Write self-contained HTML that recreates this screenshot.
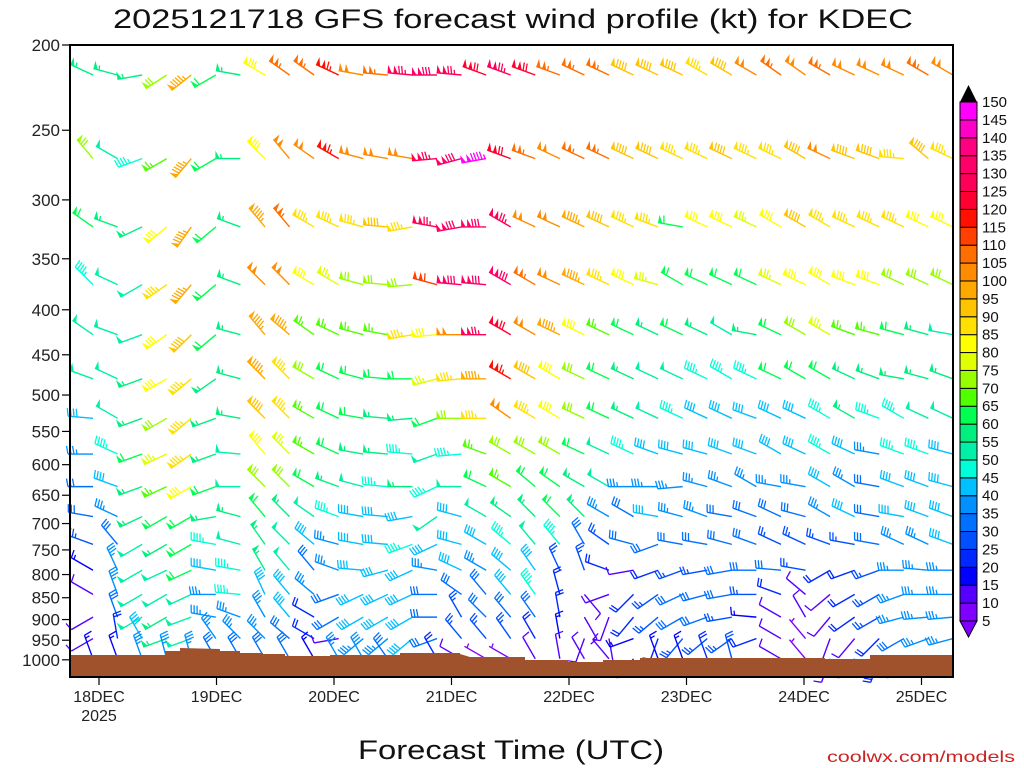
<!DOCTYPE html>
<html><head><meta charset="utf-8"><style>
html,body{margin:0;padding:0;background:#fff;}
svg{display:block;font-family:"Liberation Sans",sans-serif;}
</style></head><body>
<svg id="chart" width="1024" height="768" viewBox="0 0 1024 768" xmlns="http://www.w3.org/2000/svg">
<text x="113" y="28" font-size="27" textLength="800" lengthAdjust="spacingAndGlyphs" fill="#111">2025121718 GFS forecast wind profile (kt) for KDEC</text>
<g id="barbs"></g>
<g id="terrain"></g>
<g id="axes"></g>
<g id="cbar"></g>
<text x="358" y="759" font-size="27" textLength="306" lengthAdjust="spacingAndGlyphs" fill="#111">Forecast Time (UTC)</text>
<text x="827" y="762" font-size="16" textLength="188" lengthAdjust="spacingAndGlyphs" fill="#cc2222">coolwx.com/models</text>
</svg>
<script>
const levels=[200,250,300,350,400,450,500,550,600,650,700,750,800,850,900,950];
const tickLevels=[200,250,300,350,400,450,500,550,600,650,700,750,800,850,900,950,1000];
const dayLabels=["18DEC","19DEC","20DEC","21DEC","22DEC","23DEC","24DEC","25DEC"];
const colorLevels=[5,10,15,20,25,30,35,40,45,50,55,60,65,70,75,80,85,90,95,100,105,110,115,120,125,130,135,140,145,150];
const speeds=[
[55,55,55,70,95,60,55,80,105,105,115,100,105,125,130,125,120,125,120,105,105,105,90,90,90,85,90,100,105,100,105,100,100,100,105,100],
[70,50,45,65,95,60,55,80,100,100,115,100,100,100,125,130,145,120,105,100,105,105,90,90,85,85,90,85,85,90,100,90,90,85,90,85],
[60,55,55,80,95,60,55,95,105,85,85,85,90,85,125,130,130,125,100,100,95,90,85,85,60,80,80,75,80,90,85,85,85,85,80,80],
[45,50,50,85,95,60,55,100,100,80,75,70,70,70,110,130,130,130,105,100,95,85,80,75,60,60,60,60,75,80,80,80,80,70,70,70],
[50,50,50,80,90,60,55,95,95,65,65,65,65,85,80,100,125,120,100,95,80,65,60,55,60,55,50,55,60,70,75,65,65,60,55,50],
[50,50,55,80,85,55,55,95,85,70,60,60,60,60,75,85,95,115,90,80,70,60,55,50,50,45,45,45,60,60,60,55,55,55,55,55],
[40,50,55,70,85,55,55,90,85,65,60,60,55,55,60,70,85,100,85,80,70,60,55,50,45,40,40,40,40,40,45,55,45,45,50,50],
[35,45,60,75,85,55,50,80,75,65,60,55,55,45,50,45,65,70,70,70,60,50,45,40,40,40,40,40,40,40,45,40,35,45,45,40],
[30,40,55,65,80,60,50,70,70,60,55,50,45,55,45,50,60,65,60,60,55,50,35,35,35,35,35,35,35,35,40,35,30,40,40,40],
[30,35,55,60,60,55,55,60,55,50,45,40,40,40,50,40,50,55,55,60,55,35,30,40,35,35,30,30,30,30,35,40,30,40,40,40],
[25,30,50,55,60,45,50,55,50,40,35,40,40,45,40,40,40,45,50,45,30,25,30,30,30,30,30,30,25,25,25,25,30,35,35,40],
[15,35,50,50,60,40,45,55,50,30,35,40,40,40,35,40,35,40,40,25,25,20,10,20,25,25,30,30,30,25,20,20,25,35,35,35],
[10,35,50,50,50,35,45,40,40,35,30,40,40,40,30,30,30,40,45,20,10,10,20,25,30,30,30,25,20,10,10,20,25,35,35,35],
[10,30,50,55,50,35,35,35,40,20,30,40,40,40,30,25,30,30,30,20,10,10,20,25,30,30,25,15,10,10,10,20,25,35,35,35],
[10,20,40,55,50,35,35,35,30,20,10,35,35,40,30,25,25,25,20,15,10,10,15,20,25,25,25,20,10,5,10,10,20,30,35,35],
[15,15,35,35,35,30,30,30,30,15,35,35,30,15,20,10,5,5,10,10,10,10,10,15,15,20,25,20,10,5,10,15,20,25,30,35]
];
const directions=[
[295,285,260,237,232,240,280,300,305,305,295,280,275,275,270,275,290,290,290,290,295,295,295,295,295,300,300,300,305,305,300,295,295,295,300,300],
[320,300,250,240,220,240,270,315,320,305,300,285,280,280,265,255,260,290,290,295,295,295,295,295,295,295,295,295,295,300,295,290,290,275,310,295],
[305,290,245,230,215,230,290,320,320,300,295,285,275,260,280,260,270,300,295,295,295,295,295,290,280,295,295,295,300,300,300,295,295,295,295,295],
[315,295,240,235,220,230,290,315,315,300,300,285,275,265,285,275,275,300,300,295,295,295,295,285,300,295,295,295,295,295,300,290,290,295,295,295],
[305,290,250,235,225,230,285,320,310,305,295,285,280,260,265,270,270,300,300,295,295,295,295,295,295,295,300,280,295,300,300,290,285,285,285,280],
[290,295,250,240,230,235,285,315,315,300,295,285,275,270,255,265,270,300,300,300,295,295,295,295,295,295,300,295,295,300,300,295,290,280,285,290],
[275,300,250,240,230,250,280,315,315,300,295,280,275,265,250,270,270,305,300,300,295,295,295,295,295,295,295,290,295,295,300,300,290,300,295,295],
[270,295,250,245,235,250,275,320,315,300,295,280,275,275,250,265,290,300,300,300,295,295,295,290,285,285,290,290,300,295,300,295,280,290,290,285],
[270,290,250,245,240,250,270,315,315,300,290,285,275,270,245,270,295,300,310,305,300,300,270,270,265,285,290,300,280,280,300,300,280,290,290,285],
[280,295,245,240,240,260,285,320,315,305,290,280,275,260,235,285,300,305,315,315,315,300,300,280,285,290,280,290,295,285,300,295,280,280,290,290],
[290,320,240,240,240,280,285,325,315,310,285,280,275,250,245,285,300,310,320,320,330,305,285,250,280,280,285,290,295,295,290,280,280,295,295,290],
[300,335,240,245,245,280,280,330,320,320,290,275,255,245,280,295,300,310,325,335,340,290,260,250,250,260,260,270,275,280,240,250,250,270,275,270],
[300,340,240,240,245,270,275,335,320,310,250,245,245,245,270,305,320,320,325,345,140,250,225,235,245,255,260,270,290,310,230,240,240,250,270,270],
[240,340,240,240,250,280,290,330,320,300,240,240,240,240,270,330,315,320,325,350,150,200,220,230,240,250,260,275,300,330,220,235,240,255,265,265],
[240,350,330,250,250,325,315,315,310,300,260,230,230,230,250,320,320,325,330,350,200,170,250,200,220,230,235,250,300,320,200,220,225,240,250,255],
[340,340,340,345,345,330,330,330,330,330,330,330,325,230,330,300,300,300,330,350,330,320,220,340,340,340,345,230,300,320,200,220,200,220,240,245]
];
const colors=["#8000ff","#5500ff","#0000ff","#0028ff","#0050ff","#0070ff","#0090ff","#00c0ff","#00ffd8","#00f0a8","#00f080","#00ff50","#50ff00","#98ff00","#e0ff00","#ffff00","#ffe000","#ffc400","#ffa800","#ff8c00","#ff6e00","#ff4000","#ff1000","#ff0030","#ff0058","#ff0068","#ff0080","#ff00c8","#ff00ff"];

const NS="http://www.w3.org/2000/svg";
const X0=70,X1=953,Y0=45,Y1=677;
function yScale(p){return 45+382*Math.log(p/200);}
function rowY(p){const y=yScale(p);return y+30-(y-45)*11/574;}
function colX(i){return 93+i*24.57;}
function dayX(d){return 99+d*117.5;}
function colorFor(s){let k=Math.floor((s-5)/5);if(k<0)k=0;if(k>28)k=28;return colors[k];}
function mk(tag,attrs,parent){const e=document.createElementNS(NS,tag);for(const k in attrs)e.setAttribute(k,attrs[k]);parent.appendChild(e);return e;}

// barbs
const gB=document.getElementById('barbs');
levels.forEach((p,li)=>{
  const sy=rowY(p);
  speeds[li].forEach((s,ci)=>{
    const d=directions[li][ci]; if(s===undefined||d===undefined)return;
    const sx=colX(ci);
    const r=d*Math.PI/180, ux=Math.sin(r), uy=-Math.cos(r), px=-uy, py=ux;
    const col=colorFor(s);
    const g=document.createElementNS(NS,'g');
    
    
    gB.appendChild(g);
    const L=25;
    const pt=t=>[sx+ux*t,sy+uy*t];
    const e=pt(L);
    mk('line',{x1:sx,y1:sy,x2:e[0],y2:e[1],stroke:col,'stroke-width':1.4},g);
    let rem=Math.round(s/5)*5, t=L;
    while(rem>=50){const a=pt(t),b=pt(t-4.5);mk('polygon',{points:`${a[0]},${a[1]} ${a[0]+px*8},${a[1]+py*8} ${b[0]},${b[1]}`,fill:col},g);t-=6;rem-=50;}
    while(rem>=10){const a=pt(t);mk('line',{x1:a[0],y1:a[1],x2:a[0]+px*8+ux*1.5,y2:a[1]+py*8+uy*1.5,stroke:col,'stroke-width':1.3},g);t-=3;rem-=10;}
    if(rem>=5){if(t===L)t-=3;const a=pt(t);mk('line',{x1:a[0],y1:a[1],x2:a[0]+px*4.5+ux*0.8,y2:a[1]+py*4.5+uy*0.8,stroke:col,'stroke-width':1.3},g);}
  });
});

// terrain
const terrainPts=[[70,655],[165,655],[165,651],[180,651],[180,648],[220,649],[220,651],[240,651],[240,653],[263,653],[263,654],[285,654],[285,656],[330,656],[330,655],[400,655],[400,653],[460,653],[460,654],[470,657],[525,657],[525,660],[568,660],[568,662],[603,662],[603,660],[640,660],[640,658],[825,658],[825,659],[870,659],[870,655],[953,655],[953,677],[70,677]];
mk('polygon',{points:terrainPts.map(p=>p.join(',')).join(' '),fill:'#a0522d',},document.getElementById('terrain'));

// axes
const gA=document.getElementById('axes');
mk('rect',{x:X0,y:Y0,width:X1-X0,height:Y1-Y0,fill:'none',stroke:'#000','stroke-width':2,},gA);
tickLevels.forEach(p=>{
  const y=yScale(p);
  mk('line',{x1:X0-8,y1:y,x2:X0,y2:y,stroke:'#000','stroke-width':1.2,},gA);
  const t=mk('text',{x:X0-10,y:y+6,'font-size':17,'text-anchor':'end',fill:'#222',},gA);
  t.textContent=p;
});
dayLabels.forEach((lab,i)=>{
  const x=dayX(i);
  mk('line',{x1:x,y1:Y1,x2:x,y2:Y1+8,stroke:'#000','stroke-width':1.2,},gA);
  const t=mk('text',{x:x,y:702,'font-size':16,'text-anchor':'middle',fill:'#222',},gA);
  t.textContent=lab;
});
const yr=mk('text',{x:dayX(0),y:721,'font-size':16,'text-anchor':'middle',fill:'#222',},gA);
yr.textContent="2025";

// colorbar
const gC=document.getElementById('cbar');
const cbTop=102,cbBot=621,cbX=960,cbW=17,bh=(cbBot-cbTop)/29;
colors.forEach((c,i)=>{
  const y=cbBot-(i+1)*bh;
  mk('rect',{x:cbX,y:y,width:cbW,height:bh,fill:c,stroke:'#000','stroke-width':1,},gC);
});
mk('polygon',{points:`${cbX},${cbTop} ${cbX+cbW/2},${cbTop-17} ${cbX+cbW},${cbTop}`,fill:'#000',},gC);
mk('polygon',{points:`${cbX},${cbBot} ${cbX+cbW/2},${cbBot+16} ${cbX+cbW},${cbBot}`,fill:colors[0],stroke:'#000','stroke-width':1,},gC);
colorLevels.forEach((v,i)=>{
  const y=cbBot-i*bh;
  const t=mk('text',{x:982,y:y+5,'font-size':15,fill:'#111',},gC);
  t.textContent=v;
});
</script>
</body></html>
